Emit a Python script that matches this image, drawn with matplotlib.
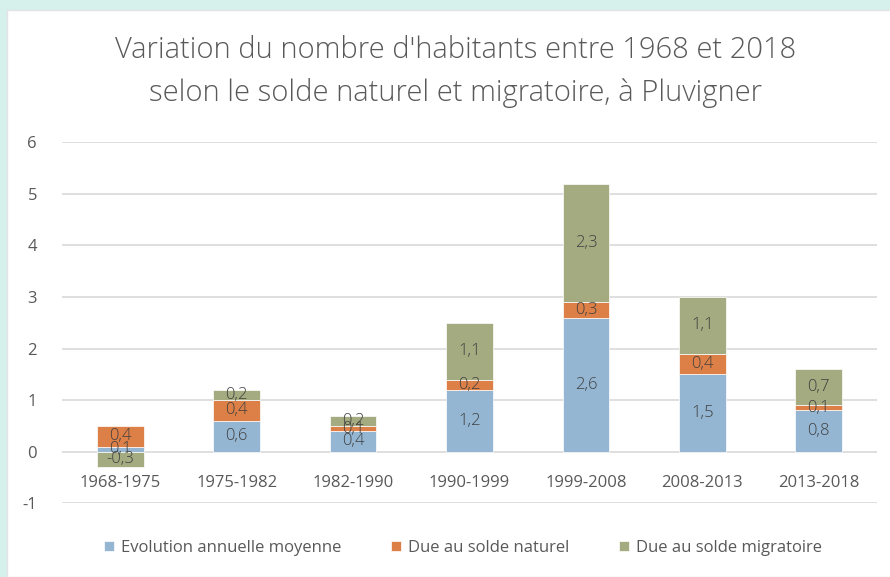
import matplotlib
matplotlib.use("Agg")
import matplotlib.pyplot as plt
from matplotlib.patches import Rectangle
import numpy as np

periodes = ["1968-1975", "1975-1982", "1982-1990", "1990-1999", "1999-2008", "2008-2013", "2013-2018"]
evolution = [0.1, 0.6, 0.4, 1.2, 2.6, 1.5, 0.8]
naturel = [0.4, 0.4, 0.1, 0.2, 0.3, 0.4, 0.1]
migratoire = [-0.3, 0.2, 0.2, 1.1, 2.3, 1.1, 0.7]
series_noms = ["Evolution annuelle moyenne", "Due au solde naturel", "Due au solde migratoire"]
couleurs = ["#94b6d2", "#dd8047", "#a5ab81"]

plt.rcParams['font.family'] = ['Open Sans', 'DejaVu Sans']
txtcol = "#404040"

fig = plt.figure(figsize=(8.9, 5.77), dpi=100)
fig.patch.set_facecolor("#d6f0ec")
fig.patches.append(Rectangle((7/890, 0), 1, 1 - 10/577, transform=fig.transFigure,
                             facecolor="white", edgecolor="#e4e4e4", lw=1, zorder=0))

ax = fig.add_axes([62/890, 73.7/577, 815/890, 361/577])
ax.set_zorder(2)
ax.set_facecolor("none")
x = np.arange(len(periodes))
pos_bas = np.zeros(len(periodes))
neg_bas = np.zeros(len(periodes))
for nom, vals, c in zip(series_noms, [evolution, naturel, migratoire], couleurs):
    vals = np.array(vals)
    bas = np.where(vals >= 0, pos_bas, neg_bas)
    bars = ax.bar(x, vals, 0.4, bottom=bas, color=c, label=nom, zorder=3,
                  edgecolor="white", linewidth=0.5)
    for xi, v, b in zip(x, vals, bas):
        ax.text(xi, b + v / 2, ("%.1f" % v).replace(".", ","), ha="center", va="center",
                fontsize=12, color=txtcol, zorder=4, fontweight="light")
    pos_bas = pos_bas + np.where(vals >= 0, vals, 0)
    neg_bas = neg_bas + np.where(vals < 0, vals, 0)

ax.set_xlim(-0.5, len(periodes) - 0.5)
ax.set_ylim(-1, 6)
ax.set_yticks(range(-1, 7))
ax.set_yticklabels([str(i) for i in range(-1, 7)], fontsize=12, color="#595959")
ax.tick_params(axis="y", length=0, pad=18)
ax.set_xticks([])
for s in ax.spines.values():
    s.set_visible(False)
ax.grid(axis="y", color="#d9d9d9", lw=1.2, zorder=0)
for xi, p in zip(x, periodes):
    ax.text(xi, -0.6, p, ha="center", va="center", fontsize=12, color="#595959")

fig.text(0.512, 1 - 50/577, "Variation du nombre d'habitants entre 1968 et 2018", ha="center",
         va="center", fontsize=21, color="#595959", fontweight="light")
fig.text(0.512, 1 - 93/577, "selon le solde naturel et migratoire, à Pluvigner", ha="center",
         va="center", fontsize=21, color="#595959", fontweight="light")

leg = fig.legend(loc="center", bbox_to_anchor=(0.52, 1 - 548/577), ncol=3, frameon=False,
                 fontsize=12, handlelength=0.6, handleheight=0.6, handletextpad=0.4,
                 columnspacing=3.0, labelcolor="#595959")

fig.savefig("out.png", dpi=100, facecolor=fig.get_facecolor())
